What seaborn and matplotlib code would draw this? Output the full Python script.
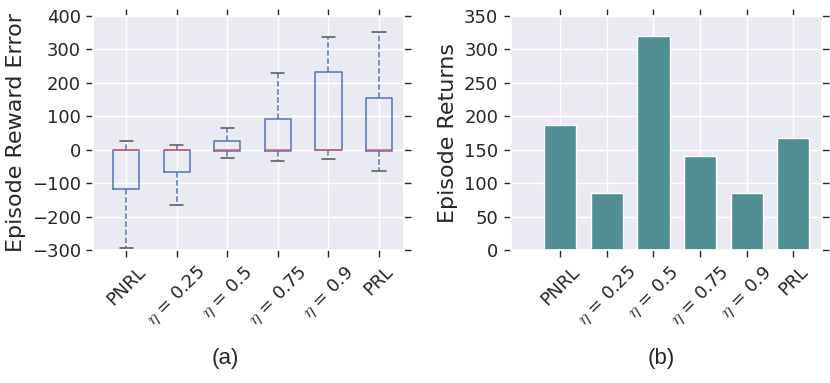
import pandas as pd
import numpy as np
import seaborn as sns
import matplotlib.pyplot as plt
from matplotlib.ticker import MultipleLocator

sns.set_theme(style="darkgrid")
plt.rcParams['font.family'] = ['DejaVu Sans']
plt.rcParams['mathtext.fontset'] = 'cm'

labels = ["PNRL", r"$\eta$ = 0.25", r"$\eta$ = 0.5", r"$\eta$ = 0.75", r"$\eta$ = 0.9", "PRL"]

# box plot five-number summaries
whisk_lo = [-293, -165, -24, -33, -29, -65]
q1 = [-118, -67, -3, -3, -2, -3]
median = [0, 0, 0, 0, 0, 0]
q3 = [0, 0, 25, 90, 233, 155]
whisk_hi = [25, 15, 65, 228, 337, 350]

# bar heights
returns = [187, 85, 320, 141, 85, 168]

rows = []
for i, lab in enumerate(labels):
    for v in [whisk_lo[i], q1[i], median[i], q3[i], whisk_hi[i]]:
        rows.append({"method": lab, "error": v})
box_df = pd.DataFrame(rows)

fig = plt.figure(figsize=(8.3, 3.83), dpi=100)
ax1 = fig.add_axes([0.1124, 0.3473, 0.3747, 0.6118])
ax2 = fig.add_axes([0.6153, 0.3473, 0.3754, 0.6118])

blue = "#5074b8"
sns.boxplot(data=box_df, x="method", y="error", order=labels, ax=ax1,
            fill=False, width=0.52, whis=(0, 100), showfliers=False,
            linecolor=blue, linewidth=1.1,
            boxprops=dict(color=blue),
            whiskerprops=dict(color=blue, linestyle="--"),
            capprops=dict(color="#555555"),
            medianprops=dict(color="#d0606b"))
ax1.set_ylim(-300, 400)
ax1.yaxis.set_major_locator(MultipleLocator(100))
ax1.set_xlim(-0.65, 5.5)
ax1.set_xlabel("")
ax1.set_ylabel("Episode Reward Error", fontsize=16)

sns.barplot(x=labels, y=returns, ax=ax2, color="#4f8f93", saturation=1,
            width=0.69, edgecolor="white", linewidth=1)
ax2.set_ylim(0, 350)
ax2.yaxis.set_major_locator(MultipleLocator(50))
ax2.set_xlim(-1.06, 5.62)
ax2.set_ylabel("Episode Returns", fontsize=16)

for ax in (ax1, ax2):
    ax.tick_params(which="major", direction="out", length=5, width=1,
                   color="#262626", labelsize=13, pad=4,
                   top=True, right=True, bottom=True, left=True)
    for lab in ax.get_xticklabels():
        lab.set_rotation(45)
    ax.grid(True, color="white", linewidth=1)

fig.text(0.2717, 0.065, "(a)", fontsize=16, family="Liberation Sans", ha="center", va="center")
fig.text(0.797, 0.065, "(b)", fontsize=16, family="Liberation Sans", ha="center", va="center")

fig.savefig("out.png", dpi=100)
